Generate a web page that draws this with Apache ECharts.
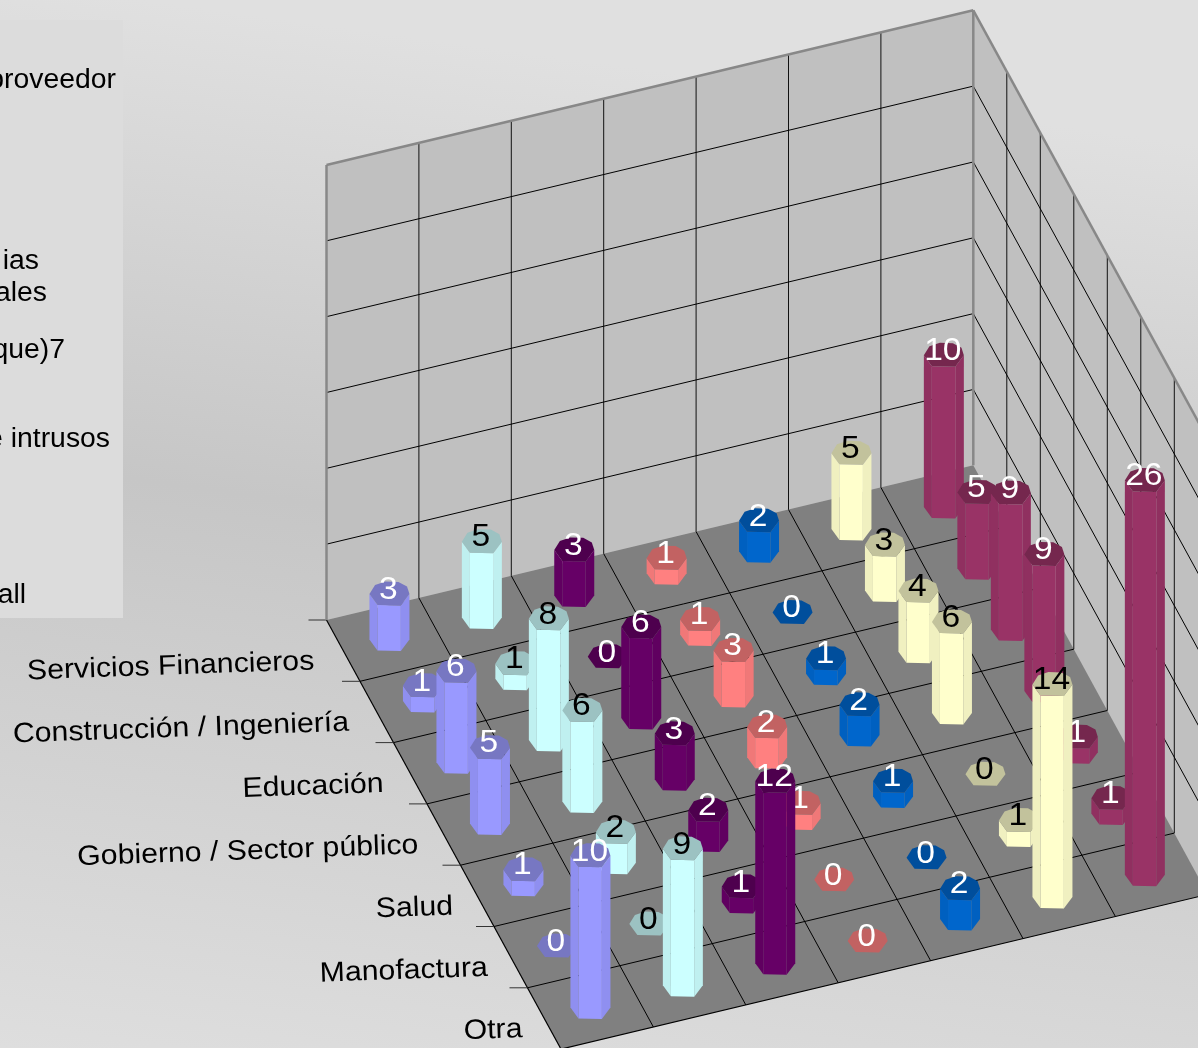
<!DOCTYPE html>
<html>
<head>
<meta charset="utf-8">
<style>html,body{margin:0;padding:0;overflow:hidden}#c{width:1198px;height:1048px}</style>
<script src="https://cdn.jsdelivr.net/npm/echarts@6/dist/echarts.min.js"></script>
</head>
<body>
<div id="c"></div>
<script>
// ---- data ----
const industries = ['Servicios Financieros','Construcción / Ingeniería','Educación','Gobierno / Sector público','Salud','Manofactura','Otra'];
const lavender = [3,1,6,5,1,0,10];
const cyan     = [5,1,8,6,2,0,9];
const purple   = [3,0,6,3,2,1,12];
const salmon   = [1,1,3,2,1,0,0];
const blue     = [2,0,1,2,1,0,2];
const yellow   = [5,3,4,6,0,1,14];
const maroon   = [10,5,9,9,1,1,26];
const legendFragments = ['proveedor','ias','ales','que)7','e intrusos','all'];

// ---- styles ----
const FONT = '"Liberation Sans", Arial, sans-serif';
const looks = [
  {name:'lavender', values:lavender, side:'#9999ff', edge:'#8f8ff0', top:'#7777c2', text:'#ffffff'},
  {name:'cyan',     values:cyan,     side:'#ccffff', edge:'#bff0f0', top:'#9cc2c2', text:'#000000'},
  {name:'purple',   values:purple,   side:'#660066', edge:'#600060', top:'#4e004e', text:'#ffffff'},
  {name:'salmon',   values:salmon,   side:'#ff8080', edge:'#f07878', top:'#c26262', text:'#ffffff'},
  {name:'blue',     values:blue,     side:'#0066cc', edge:'#0060c0', top:'#004e9c', text:'#ffffff'},
  {name:'yellow',   values:yellow,   side:'#ffffcc', edge:'#f0f0c0', top:'#c2c29c', text:'#000000'},
  {name:'maroon',   values:maroon,   side:'#993366', edge:'#903060', top:'#75274e', text:'#ffffff'}
];
const legendSlots = [[116,81],[39,262],[47,294],[65,351],[110,440],[26,596]];

// ---- oblique view of the chart box ----
const ORIGIN = [326.5, 620];
const COL_V = [92.4, -22.1];
const ROW_V = [33.5, 61.3];
const N = 7, VMAX = 30, WALL_PX = 455;
const RX = 20, RY = 12.5;
// outline of one cylinder cap, in units of its two radii: four front corners, then the back
const FRONT = [[1,0],[0.57,0.92],[-0.6,0.88],[-1,0]];
const BACK  = [[-0.72,-0.72],[-0.2,-1],[0.45,-0.97],[0.88,-0.6]];

const lift = v => echarts.number.linearMap(v, [0,VMAX], [0,WALL_PX]);
function place(api, col, row, v) {
  const p = api.coord([col,row]);
  const u = p[0]/100, w = p[1]/100;
  return [ORIGIN[0]+u*COL_V[0]+w*ROW_V[0], ORIGIN[1]+u*COL_V[1]+w*ROW_V[1]-(v?lift(v):0)];
}
const poly = (pts, fill, z2) => ({type:'polygon', z2, silent:true, shape:{points:pts}, style:{fill, stroke:null}});
const line = (a, b, stroke, lineWidth, z2) => ({type:'line', z2, silent:true, shape:{x1:a[0],y1:a[1],x2:b[0],y2:b[1]}, style:{stroke, lineWidth, fill:null}});

function renderBox(params, api) {
  const ch = [];
  const TOP = VMAX;
  ch.push(poly([place(api,0,0),place(api,N,0),place(api,N,0,TOP),place(api,0,0,TOP)],'#c0c0c0',1));
  ch.push(poly([place(api,N,0),place(api,N,N),place(api,N,N,TOP),place(api,N,0,TOP)],'#c0c0c0',1));
  ch.push(poly([place(api,0,0),place(api,N,0),place(api,N,N),place(api,0,N)],'#808080',2));
  for (let k=1;k<N;k++) {
    ch.push(line(place(api,k,0),place(api,k,0,TOP),'#111',1,3));
    ch.push(line(place(api,N,k),place(api,N,k,TOP),'#111',1,3));
    ch.push(line(place(api,k,0),place(api,k,N),'#000',1,3));
    ch.push(line(place(api,0,k),place(api,N,k),'#000',1,3));
  }
  for (let v=5;v<VMAX;v+=5) {
    ch.push(line(place(api,0,0,v),place(api,N,0,v),'#000',1,3));
    ch.push(line(place(api,N,0,v),place(api,N,N,v),'#000',1,3));
  }
  ch.push(line(place(api,0,0),place(api,0,N),'#000',1.2,3));
  ch.push(line(place(api,0,N),place(api,N,N),'#000',1.2,3));
  for (let k=0;k<N;k++) {
    const a = place(api,0,k);
    ch.push(line(a,[a[0]-18,a[1]],'#333',1,3));
  }
  const g='#888888';
  ch.push(line(place(api,0,0),place(api,0,0,TOP),g,2.5,4));
  ch.push(line(place(api,0,0,TOP),place(api,N,0,TOP),g,2.5,4));
  ch.push(line(place(api,N,0),place(api,N,0,TOP),g,2.5,4));
  ch.push(line(place(api,N,0,TOP),place(api,N,N,TOP),g,2.5,4));
  industries.forEach((name,i)=>{
    const e = place(api,0,i+.5);
    ch.push({type:'text', z2:5, silent:true, x:e[0]-29+i*1.2, y:e[1]+11, rotation:2*Math.PI/180, scaleX:1.08,
      style:{text:name, font:'28px '+FONT, fill:'#000', align:'right', verticalAlign:'middle'}});
  });
  legendFragments.forEach((t,i)=>{
    ch.push({type:'text', z2:5, silent:true, x:legendSlots[i][0], y:legendSlots[i][1], scaleX:1.05,
      style:{text:t, font:'27px '+FONT, fill:'#000', align:'right', verticalAlign:'middle'}});
  });
  return {type:'group', children:ch};
}

function renderBar(params, api) {
  const col = api.value(0), row = api.value(1), v = api.value(2);
  const look = looks[col];
  const base = (row*N + (N-col))*20 + 100;
  const c = place(api, col+.5, row+.5);
  const h = lift(v);
  const at = (o, dy) => [c[0]+RX*o[0], c[1]+RY*o[1]-dy];
  const low = FRONT.map(o => at(o,0));
  const up  = FRONT.map(o => at(o,h));
  const ch = [];
  if (v>0) {
    ch.push(poly([low[0],low[1],up[1],up[0]], look.edge, base));
    ch.push(poly([low[1],low[2],up[2],up[1]], look.side, base+1));
    ch.push(poly([low[2],low[3],up[3],up[2]], look.edge, base+2));
  }
  ch.push(poly(up.concat(BACK.map(o => at(o,h))), look.top, base+3));
  ch.push({type:'text', z2:base+4, silent:true, x:c[0]-1, y:c[1]-h-4, scaleX:1.05,
    style:{text:String(v), font:'32px '+FONT, fill:look.text, align:'center', verticalAlign:'middle'}});
  return {type:'group', children:ch};
}

const option = {
  animation:false,
  backgroundColor:new echarts.graphic.LinearGradient(0.12,0,0.0,1,[
    {offset:0,color:'#e0e0e0'},{offset:0.45,color:'#c6c6c6'},{offset:1,color:'#dedede'}]),
  grid:{left:0,top:0,width:700,height:700,show:false},
  xAxis:{type:'value',min:0,max:N,show:false},
  yAxis:{type:'value',min:0,max:N,inverse:true,show:false},
  graphic:[{type:'rect',silent:true,z:-1,shape:{x:0,y:20,width:123,height:598},style:{fill:'#dcdcdc'}}],
  series:[
    {type:'custom',name:'box',silent:true,clip:false,data:[[0,0]],renderItem:renderBox}
  ].concat(looks.map((l,col)=>({
    type:'custom',name:l.name,silent:true,clip:false,
    encode:{x:0,y:1},
    data:l.values.map((v,row)=>[col,row,v]),
    renderItem:renderBar
  })))
};
const chart = echarts.init(document.getElementById('c'));
chart.setOption(option);
</script>
</body>
</html>
